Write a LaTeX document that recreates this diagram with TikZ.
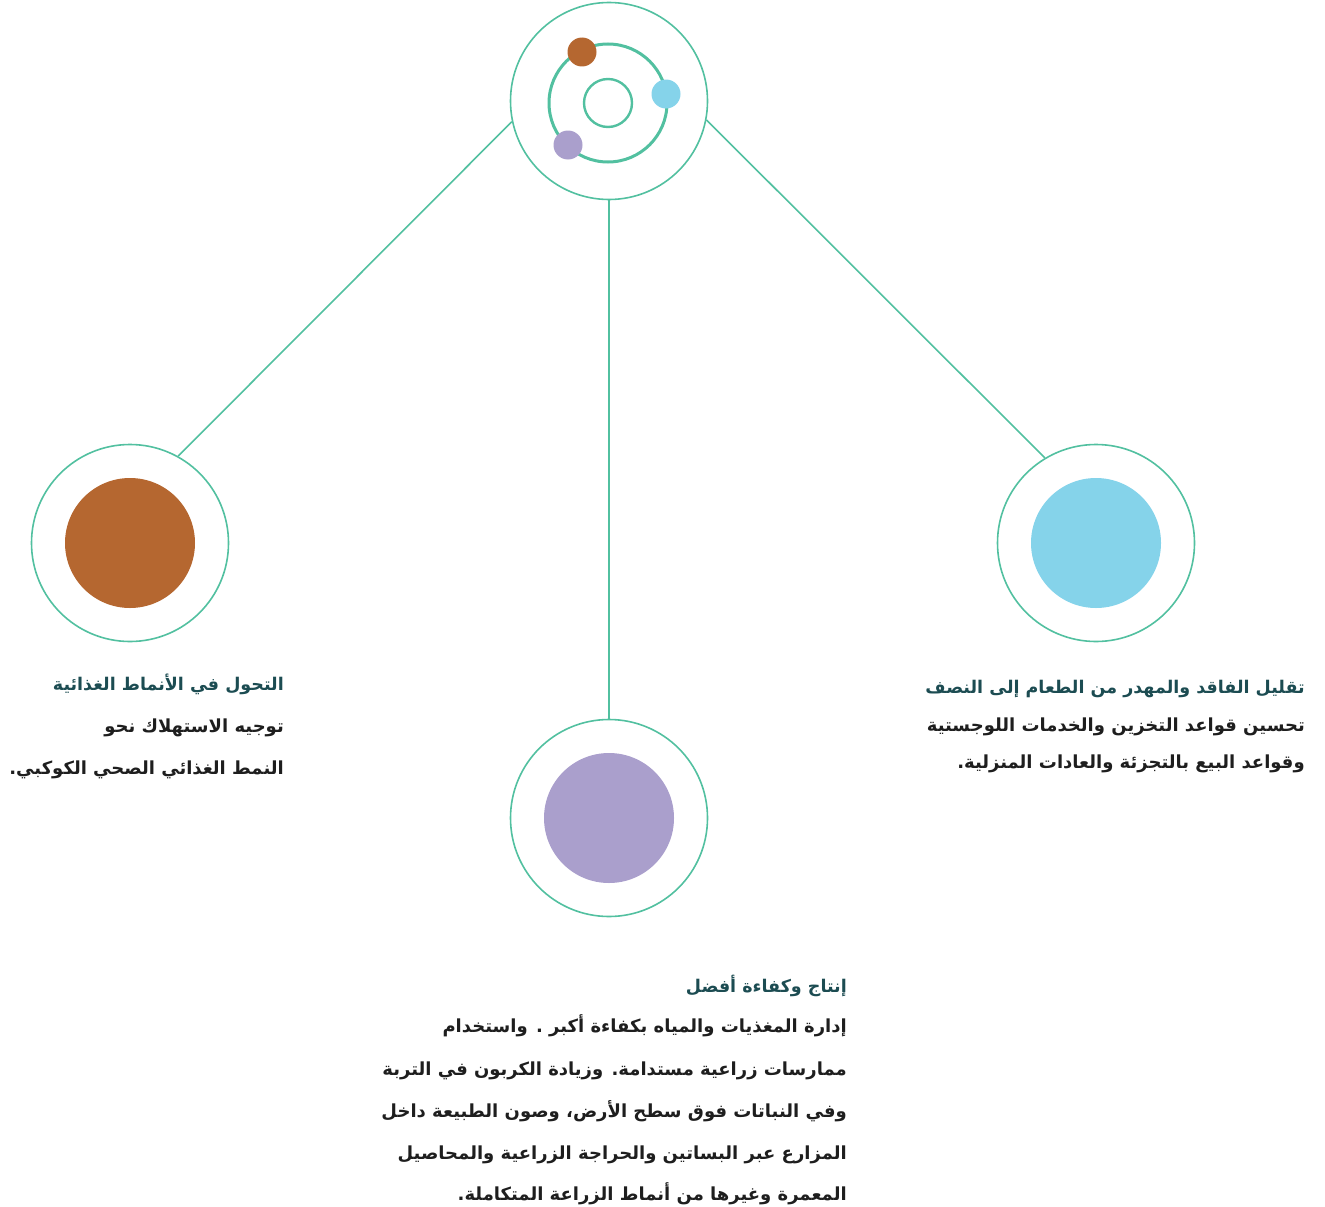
\documentclass[tikz,border=0pt]{standalone}
\usepackage{fontspec}
\newfontfamily\arabicfont[Script=Arabic]{DejaVu Sans}
\TeXXeTstate=1
\definecolor{lineteal}{RGB}{82,192,160}
\definecolor{cbrown}{RGB}{181,103,48}
\definecolor{cblue}{RGB}{133,211,234}
\definecolor{cpurple}{RGB}{170,159,204}
\definecolor{titlecol}{RGB}{28,76,82}
\definecolor{bodycol}{RGB}{30,30,30}
\begin{document}
\begin{tikzpicture}[x=1pt,y=-1pt,
  ring/.style={circle, draw=lineteal, line width=1.6pt, minimum size=197pt, inner sep=0},
  disc/.style={circle, fill=#1, minimum size=130pt, inner sep=0},
  dot/.style={circle, fill=#1, minimum size=29pt, inner sep=0},
  conn/.style={draw=lineteal, line width=1.6pt},
  ttl/.style={anchor=base east, inner sep=0, text=titlecol, font=\arabicfont\bfseries\fontsize{17.5}{20}\selectfont},
  bdy/.style={anchor=base east, inner sep=0, text=bodycol, font=\arabicfont\bfseries\fontsize{18}{20}\selectfont}]
\useasboundingbox (0,0) rectangle (1325,1207);
% rings
\node[ring] (top) at (609,101) {};
\node[ring] (left) at (130,543) {};
\node[ring] (right) at (1096,543) {};
\node[ring] (bottom) at (609,818) {};
% discs
\node[disc=cbrown] (ldisc) at (130,543) {};
\node[disc=cblue] (rdisc) at (1096,543) {};
\node[disc=cpurple] (bdisc) at (609,818) {};
% top emblem
\node[circle, draw=lineteal, line width=3pt, minimum size=118pt, inner sep=0] (orbit) at (608,103) {};
\node[circle, draw=lineteal, line width=2.4pt, minimum size=48pt, inner sep=0] (core) at (608,103) {};
\node[dot=cbrown] (d1) at (582,52) {};
\node[dot=cblue] (d2) at (666,94) {};
\node[dot=cpurple] (d3) at (568,145) {};
% connectors
\draw[conn] (top.192) -- (left.61.6);
\draw[conn] (top.349.6) -- (right.121);
\draw[conn] (top.south) -- (bottom.north);
% left text
\node[ttl] (lt) at (284,690) {\beginR التحول في الأنماط الغذائية\endR};
\node[bdy] (l1) at (284,732) {\beginR توجيه الاستهلاك نحو\endR};
\node[bdy] (l2) at (284,774) {\beginR النمط الغذائي الصحي الكوكبي.\endR};
% right text
\node[ttl] (rt) at (1305,693) {\beginR تقليل الفاقد والمهدر من الطعام إلى النصف\endR};
\node[bdy] (r1) at (1305,731) {\beginR تحسين قواعد التخزين والخدمات اللوجستية\endR};
\node[bdy] (r2) at (1305,768) {\beginR وقواعد البيع بالتجزئة والعادات المنزلية.\endR};
% bottom text
\node[ttl] (bt) at (847,992) {\beginR إنتاج وكفاءة أفضل\endR};
\node[bdy] (b1) at (847,1032) {\beginR إدارة المغذيات والمياه بكفاءة أكبر . واستخدام\endR};
\node[bdy] (b2) at (847,1075) {\beginR ممارسات زراعية مستدامة. وزيادة الكربون في التربة\endR};
\node[bdy] (b3) at (847,1117) {\beginR وفي النباتات فوق سطح الأرض، وصون الطبيعة داخل\endR};
\node[bdy] (b4) at (847,1159) {\beginR المزارع عبر البساتين والحراجة الزراعية والمحاصيل\endR};
\node[bdy] (b5) at (847,1200) {\beginR المعمرة وغيرها من أنماط الزراعة المتكاملة.\endR};
\end{tikzpicture}
\end{document}
